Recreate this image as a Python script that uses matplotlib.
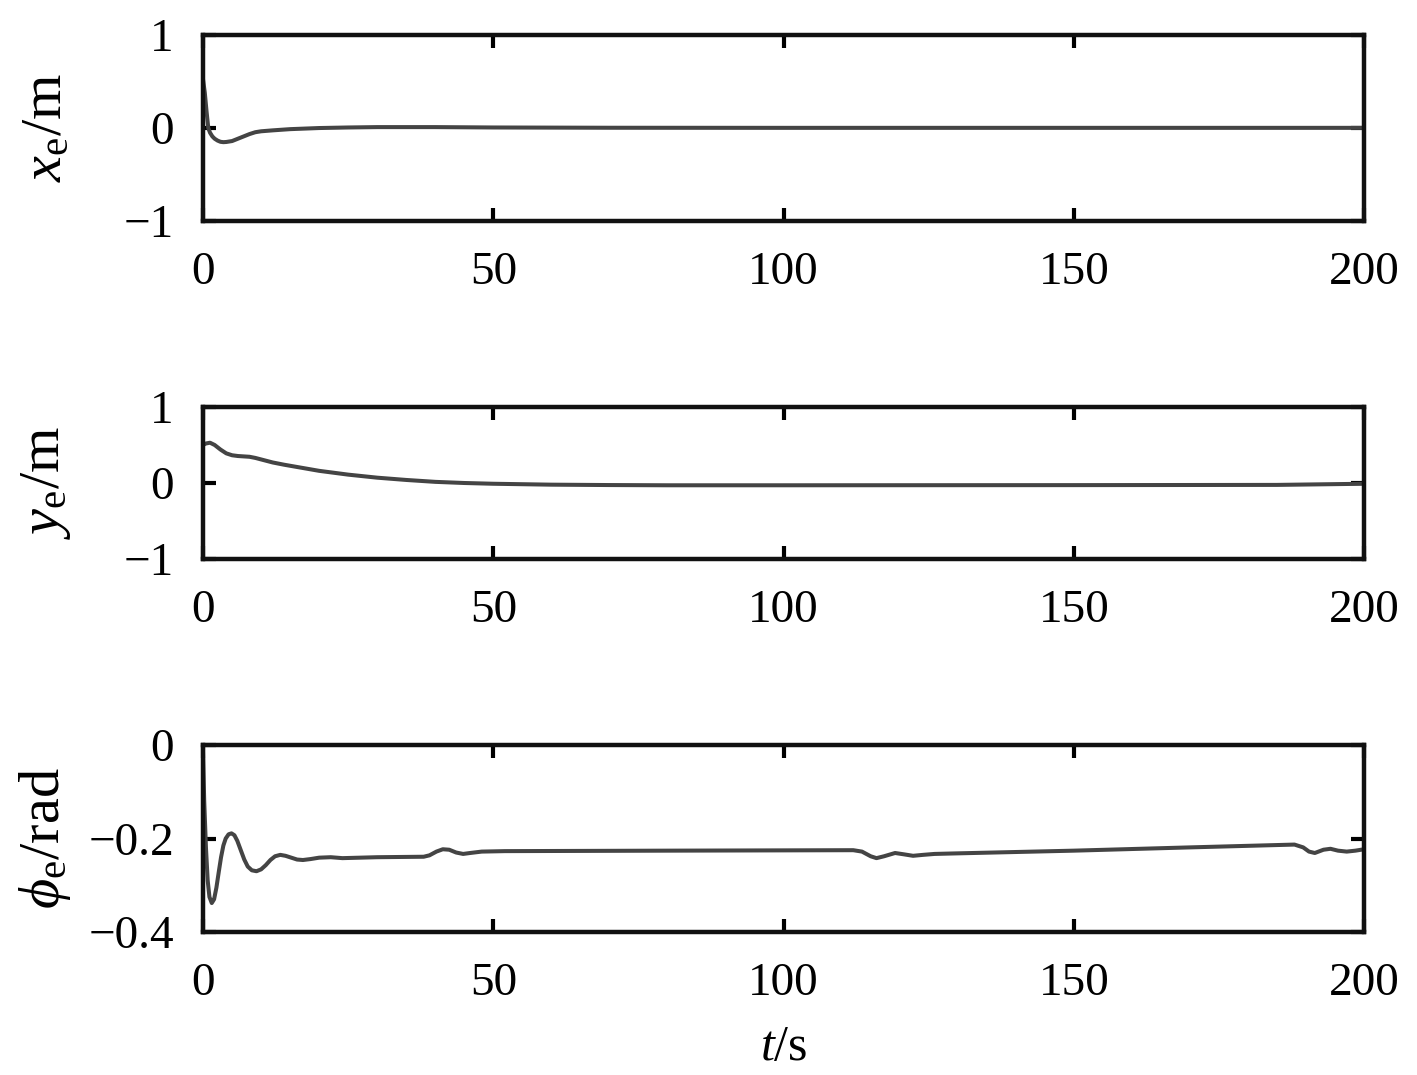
import numpy as np
import matplotlib
matplotlib.use('Agg')
import matplotlib.pyplot as plt

plt.rcParams['font.family'] = ['Liberation Serif', 'DejaVu Serif']
plt.rcParams['mathtext.fontset'] = 'custom'
plt.rcParams['mathtext.rm'] = 'Liberation Serif'
plt.rcParams['mathtext.it'] = 'Liberation Serif:italic'

# x_e error
t_x = [0, 0.3, 0.6, 0.9, 1.2, 1.6, 2, 2.5, 3, 3.5, 4, 5, 6, 7, 8, 9, 10, 12, 15, 20,
       25, 30, 40, 50, 70, 100, 150, 200]
x_e = [0.52, 0.38, 0.18, 0.0, -0.05, -0.09, -0.115, -0.135, -0.148, -0.152, -0.15, -0.14,
       -0.115, -0.09, -0.065, -0.045, -0.035, -0.025, -0.012, 0.0, 0.006, 0.01, 0.01, 0.006,
       0.003, 0.002, 0.002, 0.002]

# y_e error
t_y = [0, 0.5, 1.2, 2, 3, 4, 5, 6, 7, 8, 9, 10, 12, 14, 17, 20, 25, 30, 35, 40, 45, 50,
       60, 70, 80, 100, 150, 185, 190, 195, 200]
y_e = [0.5, 0.52, 0.53, 0.5, 0.44, 0.39, 0.365, 0.355, 0.35, 0.345, 0.33, 0.31, 0.27, 0.24,
       0.20, 0.16, 0.11, 0.07, 0.04, 0.015, 0.0, -0.01, -0.022, -0.027, -0.03, -0.03, -0.028,
       -0.025, -0.02, -0.015, -0.01]

# phi_e error
t_p = [0, 0.2, 0.5, 0.8, 1.1, 1.5, 1.9, 2.3, 2.7, 3.1, 3.5, 3.9, 4.4, 4.9, 5.4, 5.9, 6.5,
       7.1, 7.7, 8.4, 9.2, 10.0, 10.8, 11.6, 12.4, 13.3, 14.2, 15.2, 16.2, 17.2, 18.5, 20,
       22, 24, 27, 30, 38, 39, 40.2, 41.3, 42.4, 43.6, 44.8, 46, 48, 52, 80, 112, 113.5,
       115, 116, 117.3, 119.2, 120.8, 122.3, 124, 126, 129.2, 150, 170, 188, 189.5, 190.5,
       191.5, 193, 194.2, 195.5, 197, 198.5, 200]
phi_e = [-0.02, -0.12, -0.22, -0.29, -0.325, -0.338, -0.33, -0.305, -0.272, -0.24, -0.215,
         -0.2, -0.191, -0.189, -0.193, -0.205, -0.225, -0.245, -0.26, -0.268, -0.27, -0.266,
         -0.257, -0.246, -0.238, -0.235, -0.237, -0.241, -0.245, -0.246, -0.244, -0.241,
         -0.240, -0.242, -0.241, -0.240, -0.239, -0.236, -0.228, -0.223, -0.224, -0.23,
         -0.233, -0.231, -0.228, -0.227, -0.226, -0.225, -0.228, -0.238, -0.242, -0.238,
         -0.231, -0.234, -0.237, -0.235, -0.233, -0.232, -0.226, -0.219, -0.213, -0.219,
         -0.228, -0.231, -0.224, -0.222, -0.226, -0.228, -0.226, -0.223]

xticks = [0, 50, 100, 150, 200]

fig = plt.figure(figsize=(14.17, 10.75), dpi=100)
left, width = 0.1433, 0.8194
ax1 = fig.add_axes([left, 0.7944, width, 0.1730])
ax2 = fig.add_axes([left, 0.4800, width, 0.1414])
ax3 = fig.add_axes([left, 0.1330, width, 0.1740])

panels = [
    (ax1, t_x, x_e, (-1, 1), [-1, 0, 1], r'$x_{\mathrm{e}}$/m'),
    (ax2, t_y, y_e, (-1, 1), [-1, 0, 1], r'$y_{\mathrm{e}}$/m'),
    (ax3, t_p, phi_e, (-0.4, 0), [-0.4, -0.2, 0], r'$\phi_{\mathrm{e}}$/rad'),
]

for ax, t, v, ylim, yt, lab in panels:
    ax.plot(t, v, color='#444444', linewidth=2.9, solid_joinstyle='round')
    ax.set_xlim(0, 200)
    ax.set_ylim(*ylim)
    ax.set_xticks(xticks)
    ax.set_yticks(yt)
    if ax is ax3:
        ax.set_yticklabels(['\u22120.4', '\u22120.2', '0'])
    ax.tick_params(direction='in', top=True, right=True, length=9.5, width=3,
                   labelsize=34, color='black')
    ax.tick_params(axis='x', pad=22)
    ax.tick_params(axis='y', pad=21)
    for s in ax.spines.values():
        s.set_linewidth(3.2)
        s.set_color('#111111')
    ax.set_ylabel(lab, fontsize=42)
    ax.yaxis.set_label_coords(-0.112, 0.5)

ax3.set_xlabel(r'$t$/s', fontsize=36, labelpad=14)

fig.savefig('out.png', dpi=100)
